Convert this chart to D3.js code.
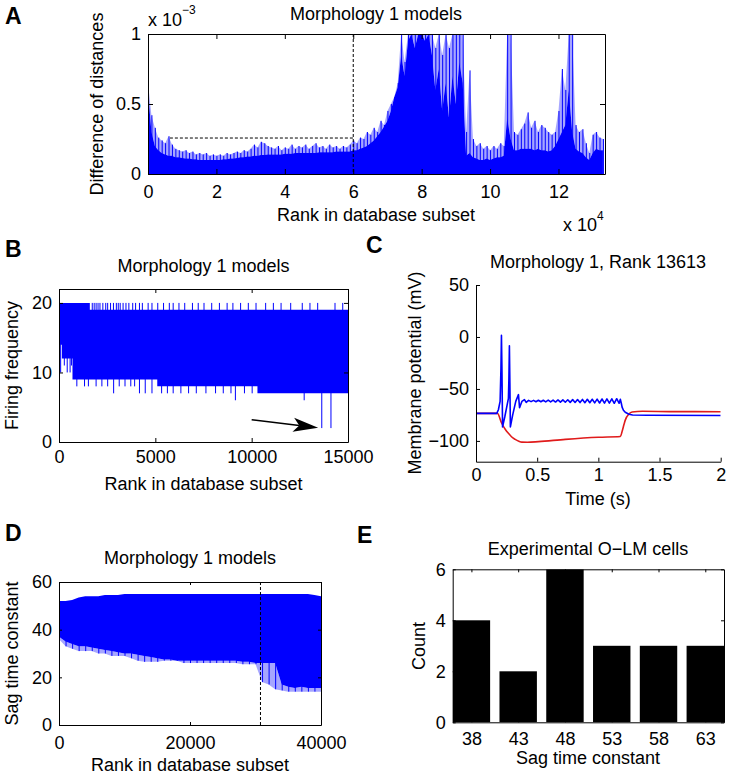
<!DOCTYPE html>
<html><head><meta charset="utf-8">
<script src="https://cdn.jsdelivr.net/npm/d3@7"></script>
<style>
body{margin:0;background:#fff}
text{font-family:"Liberation Sans",Arial,Helvetica,sans-serif;fill:#000}
</style>
</head><body>
<svg id="fig" width="730" height="778"></svg>
<script>
// ---------------- DATA ----------------
// Panel A: difference of distances (x 1e-3) vs rank, 1000-rank bins
const A_STEP = 1000;
const A_peak = [0.65,0.42,0.33,0.26,0.24,0.22,0.27,0.21,0.18,0.17,
 0.16,0.17,0.15,0.16,0.14,0.15,0.14,0.15,0.13,0.14,
 0.13,0.14,0.13,0.15,0.14,0.15,0.16,0.15,0.17,0.16,
 0.18,0.21,0.19,0.23,0.22,0.20,0.19,0.18,0.20,0.17,
 0.19,0.18,0.21,0.18,0.20,0.19,0.21,0.18,0.20,0.22,
 0.19,0.20,0.18,0.21,0.19,0.20,0.18,0.20,0.19,0.21,
 0.24,0.22,0.26,0.25,0.30,0.28,0.33,0.30,0.38,0.35,
 0.45,0.50,0.55,0.65,1.00,0.80,1.00,1.00,1.00,1.00,
 1.00,1.00,1.00,1.00,0.90,1.00,0.85,1.00,0.90,1.00,
 1.00,1.00,1.00,0.30,0.74,0.25,0.20,0.22,0.18,0.20,
 0.17,0.20,0.18,0.22,0.20,1.00,1.00,0.30,0.28,0.32,
 0.36,0.44,0.33,0.38,0.30,0.35,0.33,0.30,0.28,0.30,
 0.45,0.75,0.60,1.00,1.00,0.35,0.30,0.32,0.22,0.15,
 0.28,0.30,0.26,0.25];
const A_base = [0.60,0.30,0.20,0.17,0.15,0.14,0.13,0.13,0.12,0.12,
 0.115,0.11,0.11,0.105,0.105,0.10,0.10,0.10,0.10,0.10,
 0.10,0.10,0.105,0.105,0.11,0.11,0.115,0.12,0.12,0.125,
 0.125,0.13,0.13,0.135,0.135,0.14,0.14,0.14,0.14,0.14,
 0.145,0.145,0.145,0.15,0.15,0.15,0.15,0.15,0.15,0.15,
 0.155,0.155,0.155,0.155,0.155,0.16,0.16,0.16,0.16,0.16,
 0.17,0.17,0.18,0.19,0.20,0.22,0.24,0.27,0.30,0.34,
 0.38,0.45,0.55,0.62,0.85,0.70,0.95,1.00,0.90,1.00,
 1.00,0.95,1.00,0.85,0.60,0.75,0.45,0.65,0.40,0.70,
 0.50,0.80,0.65,0.13,0.15,0.12,0.11,0.10,0.10,0.11,
 0.10,0.11,0.12,0.12,0.13,0.40,0.25,0.17,0.17,0.18,
 0.18,0.18,0.18,0.17,0.18,0.17,0.17,0.16,0.17,0.20,
 0.25,0.30,0.35,0.60,0.30,0.18,0.16,0.15,0.12,0.10,
 0.15,0.18,0.17,0.17];
const A_rank = A_peak.map((_, i) => i * A_STEP);
const A_xMax = 133600;
const A_xTicks = [0,20000,40000,60000,80000,100000,120000];
const A_yTicks = [0,0.5,1];
const A_cut = {rank:60000, level:0.257, start:6400};

// Panel B: firing frequency vs rank
const B_bandRank = [0,150,700,1600,5100,10300,15000];
const B_bandLo   = [14,12,9,9,8,7,7];
const B_bandHi   = [20,20,20,19,19,19,19];
const B_upRank = [1700,1800,1900,2000,2100,2250,2400,2500,2650,2800,2950,3050,3150,3300,3450,3600,3800,3950,4150,4300,4600,4800,5100,5400,5700,5900,6200,6500,6900,7200,7500,7900,8300,8700,9000,9400,9800,10200,10700,11100,11500,12000,12600,13000,13400,14300,14700];
const B_downRank = [60,250,400,550,620,900,1300,1500,1900,2200,2500,2810,3100,3400,3700,3900,4150,4450,4800,5300,5600,5900,6300,6700,7100,7600,8100,8500,8900,9130,9600,10000,12700,13613,14090];
const B_downVal  = [10,11,10,10,11,8,8,8,8,8,8,7,8,8,8,8,7,7,7,7,7,7,7,7,7,7,7,7,7,6,7,7,6,2,2];
const B_arrow = [[10000,3.2],[13450,2.05]];
const B_xTicks = [0,5000,10000,15000];
const B_yTicks = [0,10,20];

// Panel C: membrane potential traces
const C_blueT = [0,0.17,0.183,0.197,0.204,0.208,0.212,0.217,0.235,0.255,0.265,0.269,0.273,0.277,0.281,0.30,0.325,0.347,0.356,0.375,0.396,0.41,
 0.43,0.45,0.47,0.49,0.51,0.53,0.55,0.57,0.59,0.61,0.63,0.65,0.67,0.69,0.71,0.73,0.75,0.77,0.79,0.81,0.83,0.85,0.87,0.89,0.91,0.93,0.95,0.97,0.99,1.01,1.03,1.05,1.07,1.09,1.11,1.13,1.15,1.17,
 1.18,1.188,1.194,1.205,1.22,1.25,1.28,1.4,2.0];
const C_blueV = [-73.5,-73.5,-70,-62,-30,1.5,-30,-86.5,-77,-65,-59,-40,-8.5,-45,-86.5,-75,-62,-55.5,-68,-62,-60.3,-63,
 -61.0,-62.2,-61.0,-62.3,-60.9,-62.3,-60.9,-62.4,-60.8,-62.5,-60.7,-62.6,-60.6,-62.7,-60.5,-62.8,-60.4,-62.9,-60.3,-63.0,-60.2,-63.1,-60.1,-63.2,-60.0,-63.3,-59.9,-63.4,-59.8,-63.5,-59.7,-63.6,-59.6,-63.7,-59.5,-63.8,-59.4,-63.8,
 -60,-64,-67.5,-70.5,-72.5,-74.3,-75,-75.3,-75.5];
const C_redT = [0,0.175,0.21,0.24,0.265,0.29,0.32,0.35,0.374,0.42,0.51,0.73,1.0,1.18,1.194,1.21,1.22,1.25,1.276,1.36,1.6,2.0];
const C_redV = [-73.5,-73.5,-83,-89,-92.7,-96,-98.5,-100.3,-101.2,-101.3,-100.7,-98.5,-96.5,-95.8,-91,-84,-80,-74.1,-72.2,-71.5,-71.8,-71.9];
const C_xTicks = [0,0.5,1,1.5,2];
const C_yTicks = [-100,-50,0,50];

// Panel D: sag time constant vs rank, 1000-rank bins
const D_STEP = 1000;
const D_hi  = [52,52,52.5,53.5,54,54,54,54.5,54.5,54.5,55,55,55,55,55,55,55,55,55,55,55,55,55,55,55,55,55,55,55,55,55,55,55,55,55,55,55,55,55,54.5,54];
const D_lo  = [37,35,34,33,33,32.5,32,31.5,31,30.5,30,30,29.5,29,28.5,28,27.5,27.5,27,27,27,27,27,27,27,27,27,27,26.5,26.5,26,26,26,26,17,16,15.5,16,15.5,15.5,15.5];
const D_min = [36,33,32,31,31,31,30,30,29,29,29,28,27,26.5,26.5,26.5,27,27,27,26,26,26,26,26,26,26,26,26,25.5,25.5,25.5,18,17,15,14.5,14,14,14,14,14,14];
const D_rank = D_hi.map((_, i) => i * D_STEP);
const D_cut = 30760;
const D_xTicks = [0,20000,40000];
const D_yTicks = [0,20,40,60];

// Panel E: histogram of experimental O-LM cells
const E_cat = [38,43,48,53,58,63];
const E_count = [4,2,6,3,3,3];
const E_yTicks = [0,2,4,6];

// ---------------- DRAWING ----------------
const svg = d3.select('#fig');
svg.append('rect').attr('width',730).attr('height',778).attr('fill','#fff');
const FONT = '"Liberation Sans",Arial,Helvetica,sans-serif';
const FS = 18;
const BLUE = '#0000ff', RED = '#e01b1b';

function makePanel(id, x0, x1, y0, y1, xd, yd) {
  const xs = d3.scaleLinear().domain(xd).range([x0, x1]);
  const ys = d3.scaleLinear().domain(yd).range([y1, y0]);
  svg.append('clipPath').attr('id', 'clip' + id).append('rect')
    .attr('x', x0).attr('y', y0).attr('width', x1 - x0).attr('height', y1 - y0);
  const data = svg.append('g').attr('clip-path', `url(#clip${id})`);
  return {xs, ys, x0, x1, y0, y1, data};
}

function styleAxis(g) {
  g.attr('font-family', FONT).attr('font-size', FS);
  g.selectAll('line,path').attr('stroke', '#000').attr('stroke-width', 1);
  g.selectAll('text').attr('fill', '#000');
}

function drawAxes(p, o) {
  const tl = o.tl || Math.max(3, 0.01 * Math.max(p.x1 - p.x0, p.y1 - p.y0));
  const gb = svg.append('g').attr('transform', `translate(0,${p.y1})`)
    .call(d3.axisBottom(p.xs).tickValues(o.xTicks).tickFormat(o.xFmt).tickSize(-tl).tickSizeOuter(0).tickPadding(o.xPad || 10));
  styleAxis(gb);
  const gl = svg.append('g').attr('transform', `translate(${p.x0},0)`)
    .call(d3.axisLeft(p.ys).tickValues(o.yTicks).tickFormat(o.yFmt).tickSize(-tl).tickSizeOuter(0).tickPadding(7));
  styleAxis(gl);
  if (o.box) {
    const gt = svg.append('g').attr('transform', `translate(0,${p.y0})`)
      .call(d3.axisTop(p.xs).tickValues(o.xTicks).tickFormat('').tickSize(-tl).tickSizeOuter(0));
    styleAxis(gt);
    const gr = svg.append('g').attr('transform', `translate(${p.x1},0)`)
      .call(d3.axisRight(p.ys).tickValues(o.yTicks).tickFormat('').tickSize(-tl).tickSizeOuter(0));
    styleAxis(gr);
  }
}

function txt(x, y, s, opts = {}) {
  const t = svg.append('text').attr('x', x).attr('y', y).text(s)
    .attr('font-size', opts.size || FS).attr('text-anchor', opts.anchor || 'middle');
  if (opts.bold) t.attr('font-weight', 'bold');
  if (opts.rot) t.attr('transform', `rotate(-90,${x},${y})`);
  return t;
}

// ----- Panel A -----
(function () {
  const p = makePanel('A', 148, 605, 34, 174, [0, A_xMax], [0, 1]);
  const {xs, ys, data} = p;
  const rows = A_rank.map((r, i) => [r, A_base[i], A_peak[i]]);
  // fuzzy fringe between dense level and peaks
  data.append('path').datum(rows)
    .attr('fill', BLUE).attr('fill-opacity', 0.35)
    .attr('d', d3.area().x(d => xs(d[0])).y0(d => ys(d[1])).y1(d => ys(d[2])));
  data.append('path').datum(rows)
    .attr('fill', BLUE)
    .attr('d', d3.area().x(d => xs(d[0])).y0(ys(0)).y1(d => ys(d[1])));
  data.selectAll('line.pk').data(rows).join('line')
    .attr('x1', d => xs(d[0]) + 0.5).attr('x2', d => xs(d[0]) + 0.5)
    .attr('y1', ys(0)).attr('y2', d => ys(d[2]))
    .attr('stroke', BLUE).attr('stroke-width', 1);
  const line = d3.line().x(d => xs(d[0])).y(d => ys(d[1]));
  svg.append('path').datum([[A_cut.rank, 1], [A_cut.rank, 0]])
    .attr('d', line)
    .attr('stroke', '#000').attr('stroke-width', 1).attr('stroke-dasharray', '3,2').attr('fill', 'none');
  svg.append('path').datum([[A_cut.start, A_cut.level], [A_cut.rank, A_cut.level]])
    .attr('d', line)
    .attr('stroke', '#000').attr('stroke-width', 1).attr('stroke-dasharray', '3,2').attr('fill', 'none');
  drawAxes(p, {xTicks: A_xTicks, xFmt: d => d / 1e4, yTicks: A_yTicks, yFmt: d => d, box: true, tl: 5, xPad: 11});
  txt(376, 20, 'Morphology 1 models');
  txt(376, 221, 'Rank in database subset');
  txt(103, 104, 'Difference of distances', {rot: true});
  const e1 = txt(148, 26, 'x 10', {anchor: 'start'});
  e1.append('tspan').attr('dy', -12).attr('font-size', 12).text('\u22123');
  const e2 = txt(563, 231, 'x 10', {anchor: 'start'});
  e2.append('tspan').attr('dy', -11).attr('font-size', 12).text('4');
})();

// ----- Panel B -----
(function () {
  const p = makePanel('B', 59, 348, 289, 442, [0, 15000], [0, 22]);
  const {xs, ys, data} = p;
  data.append('path')
    .datum(B_bandRank.map((r, i) => [r, B_bandLo[i], B_bandHi[i]]))
    .attr('fill', BLUE)
    .attr('d', d3.area().curve(d3.curveStepAfter).x(d => xs(d[0])).y0(d => ys(d[1])).y1(d => ys(d[2])));
  data.selectAll('line.up').data(B_upRank).join('line')
    .attr('x1', d => xs(d) + 0.5).attr('x2', d => xs(d) + 0.5)
    .attr('y1', ys(18)).attr('y2', ys(20))
    .attr('stroke', BLUE).attr('stroke-width', 1);
  data.selectAll('line.dn').data(B_downRank.map((r, i) => [r, B_downVal[i]])).join('line')
    .attr('x1', d => xs(d[0]) + 0.5).attr('x2', d => xs(d[0]) + 0.5)
    .attr('y1', ys(15)).attr('y2', d => ys(d[1]))
    .attr('stroke', BLUE).attr('stroke-width', 1);
  // arrow
  const a0 = [xs(B_arrow[0][0]), ys(B_arrow[0][1])];
  const a1 = [xs(B_arrow[1][0]), ys(B_arrow[1][1])];
  const ang = Math.atan2(a1[1] - a0[1], a1[0] - a0[0]);
  const L = 25, W = 7, N = 19;
  const ux = Math.cos(ang), uy = Math.sin(ang), nx = -uy, ny = ux;
  const back = [a1[0] - L * ux, a1[1] - L * uy];
  const notch = [a1[0] - N * ux, a1[1] - N * uy];
  svg.append('line').attr('x1', a0[0]).attr('y1', a0[1]).attr('x2', notch[0]).attr('y2', notch[1])
    .attr('stroke', '#000').attr('stroke-width', 1.5);
  svg.append('polygon').attr('points', [a1, [back[0] + W * nx, back[1] + W * ny], notch, [back[0] - W * nx, back[1] - W * ny]].map(q => q.join(',')).join(' '))
    .attr('fill', '#000');
  drawAxes(p, {xTicks: B_xTicks, xFmt: d => d, yTicks: B_yTicks, yFmt: d => d, box: true, tl: 4, xPad: 8});
  txt(203.5, 272, 'Morphology 1 models');
  txt(203.5, 490, 'Rank in database subset');
  txt(18, 365.5, 'Firing frequency', {rot: true});
})();

// ----- Panel C -----
(function () {
  const p = makePanel('C', 476, 720.7, 285, 461.7, [0, 2], [-120, 50]);
  const {xs, ys, data} = p;
  data.append('path').datum(C_redT.map((t, i) => [t, C_redV[i]]))
    .attr('d', d3.line().curve(d3.curveMonotoneX).x(d => xs(d[0])).y(d => ys(d[1])))
    .attr('fill', 'none').attr('stroke', RED).attr('stroke-width', 1.6);
  data.append('path').datum(C_blueT.map((t, i) => [t, C_blueV[i]]))
    .attr('d', d3.line().x(d => xs(d[0])).y(d => ys(d[1])))
    .attr('fill', 'none').attr('stroke', BLUE).attr('stroke-width', 1.6).attr('stroke-linejoin', 'round');
  drawAxes(p, {xTicks: C_xTicks, xFmt: d => d, yTicks: C_yTicks, yFmt: d => d < 0 ? '\u2212' + Math.abs(d) : d, box: false, tl: 4, xPad: 7});
  txt(598, 268, 'Morphology 1, Rank 13613');
  txt(598, 505, 'Time (s)');
  txt(421, 373, 'Membrane potential (mV)', {rot: true});
})();

// ----- Panel D -----
(function () {
  const p = makePanel('D', 59, 321, 582, 725, [0, 40000], [0, 60]);
  const {xs, ys, data} = p;
  const rows = D_rank.map((r, i) => [r, D_lo[i], D_hi[i], D_min[i]]);
  data.append('path').datum(rows)
    .attr('fill', BLUE).attr('fill-opacity', 0.35)
    .attr('d', d3.area().x(d => xs(d[0])).y0(d => ys(d[3])).y1(d => ys(d[1])));
  data.append('path').datum(rows)
    .attr('fill', BLUE)
    .attr('d', d3.area().x(d => xs(d[0])).y0(d => ys(d[1])).y1(d => ys(d[2])));
  data.selectAll('line.fr').data(rows).join('line')
    .attr('x1', d => xs(d[0]) + 0.5).attr('x2', d => xs(d[0]) + 0.5)
    .attr('y1', d => ys(d[1] + 1)).attr('y2', d => ys(d[3]))
    .attr('stroke', BLUE).attr('stroke-width', 1);
  svg.append('path').datum([[D_cut, 0], [D_cut, 60]])
    .attr('d', d3.line().x(d => xs(d[0])).y(d => ys(d[1])))
    .attr('stroke', '#000').attr('stroke-width', 1).attr('stroke-dasharray', '3,2').attr('fill', 'none');
  drawAxes(p, {xTicks: D_xTicks, xFmt: d => d, yTicks: D_yTicks, yFmt: d => d, box: true, tl: 3, xPad: 11});
  txt(190, 564, 'Morphology 1 models');
  txt(190, 771, 'Rank in database subset');
  txt(18, 653.5, 'Sag time constant', {rot: true});
})();

// ----- Panel E -----
(function () {
  const p = makePanel('E', 452.7, 724, 569.3, 722.3, [36, 65], [0, 6]);
  const {xs, ys, data} = p;
  data.selectAll('rect.bar').data(E_cat.map((c, i) => [c, E_count[i]])).join('rect')
    .attr('x', d => xs(d[0] - 2)).attr('width', d => xs(d[0] + 2) - xs(d[0] - 2))
    .attr('y', d => ys(d[1])).attr('height', d => ys(0) - ys(d[1]))
    .attr('fill', '#000');
  drawAxes(p, {xTicks: E_cat, xFmt: d => d, yTicks: E_yTicks, yFmt: d => d, box: true, tl: 3, xPad: 10});
  txt(588, 555, 'Experimental O\u2212LM cells');
  txt(588, 764, 'Sag time constant');
  txt(425, 646, 'Count', {rot: true});
})();

// panel letters
txt(5, 24, 'A', {anchor: 'start', bold: true, size: 23});
txt(5, 257, 'B', {anchor: 'start', bold: true, size: 23});
txt(366, 253, 'C', {anchor: 'start', bold: true, size: 23});
txt(5, 541, 'D', {anchor: 'start', bold: true, size: 23});
txt(357, 543, 'E', {anchor: 'start', bold: true, size: 23});
</script>
</body></html>
